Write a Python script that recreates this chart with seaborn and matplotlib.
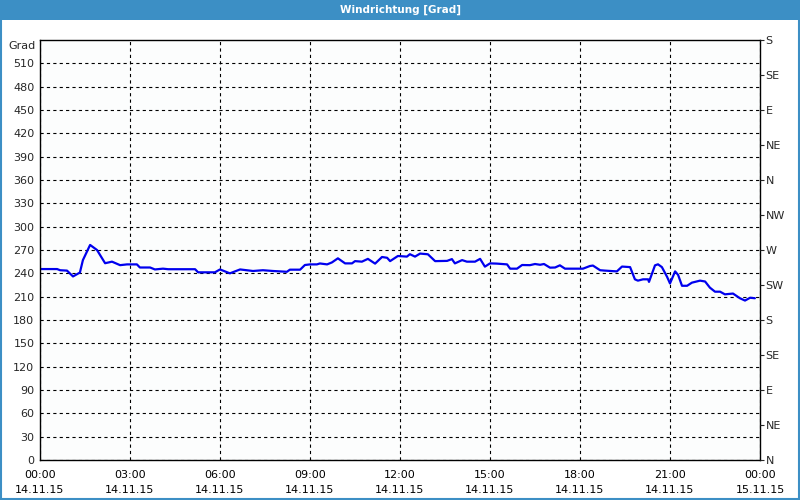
import matplotlib
matplotlib.use("Agg")
import matplotlib.pyplot as plt
import seaborn as sns
import pandas as pd
from matplotlib.patches import Rectangle

title = "Windrichtung [Grad]"
hours = [0.0, 0.57, 0.67, 0.9, 1.1, 1.33, 1.43, 1.67, 1.9, 2.17, 2.4, 2.67, 2.9, 3.23, 3.33,
         3.67, 3.83, 4.1, 4.27, 5.17, 5.27, 5.83, 6.0, 6.33, 6.67, 7.1, 7.43, 7.77, 8.0,
         8.23, 8.33, 8.67, 8.83, 9.0, 9.23, 9.33, 9.57, 9.73, 9.93, 10.17, 10.4, 10.5,
         10.73, 10.93, 11.17, 11.4, 11.57, 11.67, 11.93, 12.23, 12.33, 12.5, 12.67, 12.93,
         13.17, 13.57, 13.73, 13.83, 14.07, 14.23, 14.5, 14.67, 14.83, 15.0, 15.23, 15.57,
         15.67, 15.9, 16.07, 16.33, 16.5, 16.67, 16.8, 17.0, 17.17, 17.33, 17.5, 17.83,
         18.1, 18.33, 18.43, 18.67, 18.83, 19.23, 19.4, 19.67, 19.83, 19.93, 20.1, 20.27,
         20.3, 20.5, 20.6, 20.73, 20.9, 21.0, 21.17, 21.27, 21.4, 21.57, 21.73, 22.0,
         22.17, 22.33, 22.5, 22.67, 22.83, 23.1, 23.33, 23.5, 23.67, 23.83]
values = [245.5, 245.5, 244, 243.5, 236, 241, 257, 276.5, 270, 253, 255, 250.5, 251.5, 251.5, 247.5,
          247.5, 245, 246, 245.3, 245.3, 241.3, 241.3, 245, 240, 245, 243, 244, 243, 242.5,
          242, 244.7, 244.7, 250.7, 251.5, 251.5, 252.7, 251.5, 254, 259.3, 252.8, 252.8, 255.7,
          255, 258.6, 252.5, 261, 260, 255.7, 262.3, 261.5, 264.6, 261.5, 265.4, 264.5,
          255.7, 256, 258.3, 252.8, 257, 255, 255, 258.6, 248.6, 252.8, 252.5, 251.5,
          246, 246, 250.7, 250.5, 252, 251, 252, 247.3, 247.5, 250.3, 246, 246,
          246, 249.4, 250, 244, 243.5, 242.5, 248.7, 248, 232.3, 230.6, 232.3, 232.3,
          229, 250.3, 251.6, 248, 235.7, 227, 242.5, 238, 224, 224, 228, 230.6,
          229.5, 221.6, 216.4, 216.4, 213, 214, 208, 205, 208.6, 208]

x_ticks = [0, 3, 6, 9, 12, 15, 18, 21, 24]
x_labels = ["00:00\n14.11.15", "03:00\n14.11.15", "06:00\n14.11.15", "09:00\n14.11.15",
            "12:00\n14.11.15", "15:00\n14.11.15", "18:00\n14.11.15", "21:00\n14.11.15",
            "00:00\n15.11.15"]
y_ticks = list(range(0, 511, 30))
dir_ticks = list(range(0, 541, 45))
dir_labels = ["N", "NE", "E", "SE", "S", "SW", "W", "NW", "N", "NE", "E", "SE", "S"]

sns.set_style("white")
plt.rcParams['font.family'] = ['DejaVu Sans']
plt.rcParams['lines.scale_dashes'] = False

df = pd.DataFrame({"h": hours, "v": values})

fig = plt.figure(figsize=(8, 5), dpi=100, facecolor="white")
ax = fig.add_axes([0.05, 0.08, 0.90, 0.84])
ax.set_facecolor("#FCFDFD")

sns.lineplot(data=df, x="h", y="v", ax=ax, color="#0000EE", linewidth=1.6)

ax.set_xlim(0, 24)
ax.set_ylim(0, 540)
ax.set_xticks(x_ticks)
ax.set_xticklabels(x_labels, fontsize=8, linespacing=1.7)
ax.set_xticks(range(0, 25), minor=True)
ax.set_yticks(y_ticks)
ax.set_yticklabels([str(t) for t in y_ticks], fontsize=8)
ax.set_xlabel("")
ax.set_ylabel("")
ax.tick_params(axis="x", which="both", direction="out", length=4, width=0.8, colors="black", pad=3)
ax.tick_params(axis="y", which="both", length=0, pad=4)
ax.grid(True, which="major", color="black", linestyle=(0, (2.3, 2.3)), linewidth=0.8)
for s in ax.spines.values():
    s.set_color("black")
    s.set_linewidth(1.0)

ax.text(-0.006, 1.0 - 6 / 420, "Grad", transform=ax.transAxes, ha="right", va="center", fontsize=8)

ax2 = ax.twinx()
ax2.set_ylim(0, 540)
ax2.set_yticks(dir_ticks)
ax2.set_yticklabels(dir_labels, fontsize=8)
ax2.tick_params(axis="y", direction="out", length=3, width=0.8, pad=1)
for s in ax2.spines.values():
    s.set_visible(False)

fig.patches.append(Rectangle((0, 0.96), 1, 0.04, transform=fig.transFigure,
                             facecolor="#3C8FC5", edgecolor="none", zorder=0))
fig.patches.append(Rectangle((0.001, 0.002), 0.998, 0.996, transform=fig.transFigure,
                             facecolor="none", edgecolor="#3C8FC5", linewidth=1.5, zorder=0))
fig.text(0.5, 0.98, title, color="white", fontsize=7.5, fontweight="bold", ha="center", va="center")

fig.savefig("out.png", dpi=100, facecolor="white")
